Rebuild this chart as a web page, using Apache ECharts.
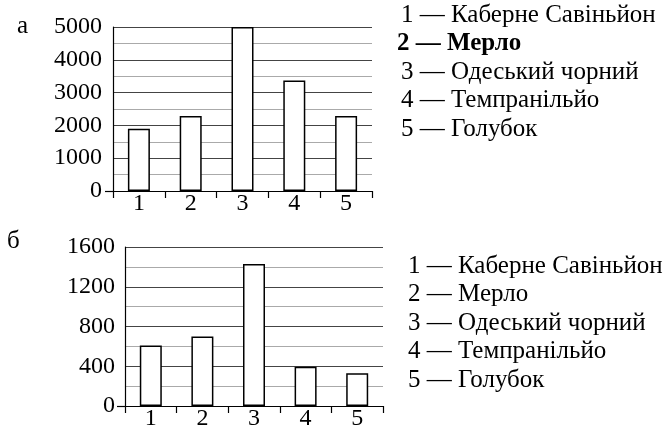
<!DOCTYPE html>
<html><head><meta charset="utf-8">
<script src="https://cdn.jsdelivr.net/npm/echarts@6/dist/echarts.min.js"></script>
<style>html,body{margin:0;padding:0;background:#fff}#c{width:668px;height:431px}</style>
</head><body><div id="c"></div>
<script>
const categories = ['1','2','3','4','5'];
const valuesA = [1900, 2290, 5000, 3370, 2290];
const valuesB = [610, 700, 1430, 395, 330];
const ticksA = [0, 1000, 2000, 3000, 4000, 5000];
const ticksB = [0, 400, 800, 1200, 1600];
const legendA = ['1 — Каберне Савіньйон','2 — Мерло','3 — Одеський чорний','4 — Темпранільйо','5 — Голубок'];
const legendB = ['1 — Каберне Савіньйон','2 — Мерло','3 — Одеський чорний','4 — Темпранільйо','5 — Голубок'];
const panelLabels = ['а','б'];

const FONT = '"Liberation Serif", "DejaVu Serif", serif';
const chart = echarts.init(document.getElementById('c'), null, {renderer:'canvas'});

function xAxis(gi){
  return {gridIndex:gi, type:'category', data:categories, boundaryGap:true,
    axisLine:{lineStyle:{color:'#000', width:1.2}},
    axisTick:{show:true, inside:false, length:7, alignWithLabel:false, lineStyle:{color:'#000', width:1.2}},
    axisLabel:{color:'#000', fontFamily:FONT, fontSize:24, margin:1},
    splitLine:{show:false}};
}
function yAxis(gi, max, interval, labels, margin){
  return {gridIndex:gi, type:'value', min:0, max:max, interval:interval,
    axisLine:{show:true, lineStyle:{color:'#000', width:1.2}},
    axisTick:{show:false},
    axisLabel:{color:'#000', fontFamily:FONT, fontSize:24, margin:margin,
      formatter:v => labels.indexOf(v) >= 0 ? String(v) : ''},
    splitLine:{show:true, lineStyle:{color:['#444','#aaa'], width:1.2}}};
}
function zeroTickAxis(gi, max){
  return {gridIndex:gi, type:'value', min:0, max:max, interval:max, position:'left',
    axisLine:{show:false}, axisLabel:{show:false}, splitLine:{show:false},
    axisTick:{show:true, length:8, customValues:[0], lineStyle:{color:'#000', width:1.2}}};
}
function legendText(lines, x, y, boldIdx){
  return lines.map((t,i)=>({type:'text', left: i===boldIdx ? x-4 : x, top:y + i*28.4,
    style:{text:t, fontFamily:FONT, fontSize:25, fill:'#000', fontWeight: i===boldIdx?'bold':'normal'}}));
}

chart.setOption({
  animation:false,
  grid:[
    {left:113, right:296, top:27, height:164},
    {left:125, right:285, top:247, height:163}
  ],
  xAxis:[xAxis(0), xAxis(1)],
  yAxis:[yAxis(0, 5000, 500, ticksA, 11), yAxis(1, 1600, 200, ticksB, 10), zeroTickAxis(0, 5000), zeroTickAxis(1, 1600)],
  series:[
    {type:'bar', xAxisIndex:0, yAxisIndex:0, data:valuesA, barWidth:22, z:5,
     itemStyle:{color:'#fff', borderColor:'#000', borderWidth:1.5}},
    {type:'bar', xAxisIndex:1, yAxisIndex:1, data:valuesB, barWidth:22, z:5,
     itemStyle:{color:'#fff', borderColor:'#000', borderWidth:1.5}}
  ],
  graphic:[
    {type:'text', left:17, top:14, style:{text:panelLabels[0], fontFamily:FONT, fontSize:25, fill:'#000'}},
    {type:'text', left:7, top:229, style:{text:panelLabels[1], fontFamily:FONT, fontSize:25, fill:'#000'}},
    ...legendText(legendA, 401, 3, 1),
    ...legendText(legendB, 408, 254, -1)
  ]
});
</script></body></html>
